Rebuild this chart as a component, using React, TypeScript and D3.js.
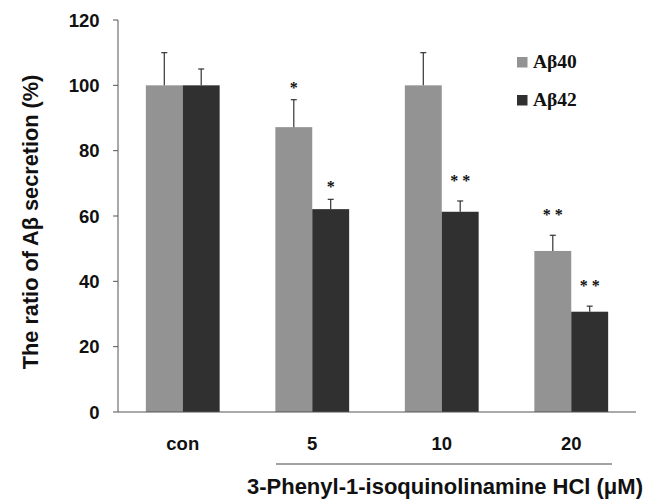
import * as d3 from 'd3';

// chart data
const groups = ['con', '5', '10', '20'];
const seriesNames = ['Aβ40', 'Aβ42'];
const ab40 = [100, 87.2, 100, 49.3];
const ab40Err = [10, 8.4, 10, 4.8];
const ab40Sig = ['', '*', '', '**'];
const ab42 = [100, 62.1, 61.3, 30.7];
const ab42Err = [5, 3, 3.3, 1.7];
const ab42Sig = ['', '*', '**', '**'];
const yTicks = [0, 20, 40, 60, 80, 100, 120];
const colors = ['#939393', '#303030'];

const W = 655, H = 499;
const left = 118, right = 636, top = 20, bottom = 412;

export default function App() {
  const x0 = d3.scaleBand().domain(groups).range([left, right]).paddingInner(0.43).paddingOuter(0.215);
  const x1 = d3.scaleBand().domain(seriesNames).range([0, x0.bandwidth()]);
  const y = d3.scaleLinear().domain([0, 120]).range([bottom, top]);

  const rows = [
    { vals: ab40, errs: ab40Err, sig: ab40Sig },
    { vals: ab42, errs: ab42Err, sig: ab42Sig },
  ];

  const sans = '"Liberation Sans", Arial, sans-serif';
  const serif = '"Liberation Serif", "Times New Roman", serif';

  return (
    <svg width={W} height={H} style={{ position: 'absolute', left: 0, top: 0, background: '#fff' }}>
      {/* bars */}
      {rows.map((r, si) =>
        groups.map((g, gi) => {
          const bx = x0(g)! + x1(seriesNames[si])!;
          const bw = x1.bandwidth();
          const cx = bx + bw / 2;
          const errTop = y(r.vals[gi] + r.errs[gi]);
          const sigOffset = r.sig[gi].length > 1 ? 15 : 7;
          return (
            <g key={`${si}-${gi}`}>
              <rect x={bx} y={y(r.vals[gi])} width={bw} height={bottom - y(r.vals[gi])} fill={colors[si]} />
              <line x1={cx} x2={cx} y1={y(r.vals[gi])} y2={errTop} stroke="#333" strokeWidth={1.2} />
              <line x1={cx - 3} x2={cx + 3} y1={errTop} y2={errTop} stroke="#333" strokeWidth={1.2} />
              {r.sig[gi] && (
                <text x={cx} y={errTop - sigOffset} textAnchor="middle" fontFamily={serif}
                  fontWeight="bold" fontSize={16} fill="#111">
                  {r.sig[gi].split('').join(' ')}
                </text>
              )}
            </g>
          );
        })
      )}

      {/* y axis */}
      <line x1={left} x2={left} y1={top} y2={bottom} stroke="#555" strokeWidth={1} />
      {yTicks.map(t => (
        <g key={t}>
          <line x1={left - 5} x2={left} y1={y(t)} y2={y(t)} stroke="#555" />
          <text x={99.5} y={y(t)} dy="0.36em" textAnchor="end" fontFamily={sans}
            fontWeight="bold" fontSize={18.5} fill="#111">{t}</text>
        </g>
      ))}
      {/* x axis */}
      <line x1={left} x2={right} y1={bottom} y2={bottom} stroke="#555" />
      {groups.map(g => (
        <text key={g} x={x0(g)! + x0.bandwidth() / 2} y={bottom + 37.5} textAnchor="middle"
          fontFamily={sans} fontWeight="bold" fontSize={18.5} fill="#111">{g}</text>
      ))}
      <line x1={276} x2={612} y1={464} y2={464} stroke="#444" />
      <text x={643} y={494} textAnchor="end" fontFamily={sans} fontWeight="bold" fontSize={22} fill="#111">
        3-Phenyl-1-isoquinolinamine HCl (μM)
      </text>

      {/* y label */}
      <text transform={`translate(38,${(top + bottom) / 2 + 6}) rotate(-90)`} textAnchor="middle"
        fontFamily={sans} fontWeight="bold" fontSize={21.7} fill="#111">
        The ratio of Aβ secretion (%)
      </text>

      {/* legend */}
      {seriesNames.map((s, i) => (
        <g key={s} transform={`translate(517,${57 + i * 38})`}>
          <rect width={10.5} height={10.5} fill={colors[i]} />
          <text x={16} y={11.3} fontFamily={serif} fontWeight="bold" fontSize={19.5} fill="#111">{s}</text>
        </g>
      ))}
    </svg>
  );
}
